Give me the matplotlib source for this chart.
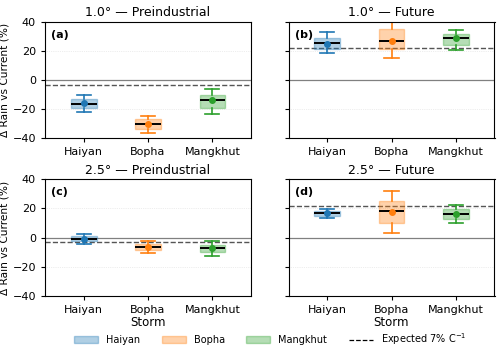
import matplotlib
matplotlib.use('Agg')
import matplotlib.pyplot as plt
from matplotlib.patches import Patch
from matplotlib.lines import Line2D

storms = ['Haiyan', 'Bopha', 'Mangkhut']
colors = ['#1f77b4', '#ff7f0e', '#2ca02c']

titles = ['1.0° — Preindustrial', '1.0° — Future', '2.5° — Preindustrial', '2.5° — Future']
letters = ['(a)', '(b)', '(c)', '(d)']
expected = [-3.4, 21.8, -3.2, 21.8]

# per panel, per storm: whislo, q1, med, q3, whishi, mean
pre_10 = [[-22.3, -19.5, -16.3, -13.0, -10.3, -16.0],
          [-36.5, -33.6, -30.3, -27.0, -24.6, -30.0],
          [-23.2, -19.0, -14.0, -10.0, -6.0, -14.0]]
fut_10 = [[18.6, 21.4, 25.3, 29.2, 32.9, 25.0],
          [15.0, 21.6, 26.7, 35.0, 42.0, 26.8],
          [20.5, 24.1, 28.7, 31.5, 34.7, 28.6]]
pre_25 = [[-4.2, -2.4, -0.8, 0.8, 2.2, -0.9],
          [-10.6, -8.8, -6.5, -4.4, -2.4, -6.4],
          [-12.9, -9.9, -7.4, -4.9, -2.4, -7.3]]
fut_25 = [[13.5, 14.7, 16.8, 18.3, 19.7, 16.7],
          [2.8, 9.9, 18.1, 25.0, 31.8, 17.8],
          [9.9, 12.9, 16.3, 19.5, 22.4, 16.2]]
panels = [pre_10, fut_10, pre_25, fut_25]

fig = plt.figure(figsize=(5, 3.54), dpi=100)
boxes = [[0.09, 0.610, 0.412, 0.328], [0.577, 0.610, 0.412, 0.328],
         [0.09, 0.164, 0.412, 0.330], [0.577, 0.164, 0.412, 0.330]]

for k in range(4):
    ax = fig.add_axes(boxes[k])
    ax.set_axisbelow(True)
    for i, s in enumerate(panels[k]):
        st = dict(whislo=s[0], q1=s[1], med=s[2], q3=s[3], whishi=s[4], mean=s[5])
        c = colors[i]
        ax.bxp([st], positions=[i], widths=0.4, showmeans=True, showfliers=False,
               patch_artist=True,
               boxprops=dict(facecolor=c, alpha=0.35, edgecolor=c, linewidth=1),
               whiskerprops=dict(color=c, linewidth=1.2),
               capprops=dict(color=c, linewidth=1.2),
               capwidths=0.22,
               medianprops=dict(color='black', linewidth=1.4),
               meanprops=dict(marker='o', markerfacecolor=c, markeredgecolor=c, markersize=4))
    ax.axhline(0, color='grey', lw=0.9, zorder=1)
    ax.axhline(expected[k], color='#555555', lw=1.0, ls='--', zorder=1)
    ax.set_ylim(-40, 40)
    ax.set_xlim(-0.6, 2.6)
    ax.set_yticks([-40, -20, 0, 20, 40])
    ax.grid(axis='y', ls=':', lw=0.5, color='#dddddd')
    ax.set_xticks([0, 1, 2])
    ax.set_xticklabels(storms, fontsize=8)
    ax.tick_params(labelsize=8, length=3)
    ax.set_title(titles[k], fontsize=9, pad=4)
    ax.text(0.03, 0.93, letters[k], transform=ax.transAxes, fontsize=8,
            fontweight='bold', va='top', ha='left')
    if k % 2 == 0:
        ax.set_ylabel('Δ Rain vs Current (%)', fontsize=7.6)
        ax.yaxis.set_label_coords(-0.17, 0.5)
    else:
        ax.set_yticklabels([])
    if k >= 2:
        ax.set_xlabel('Storm', fontsize=8.5, labelpad=1)

handles = [Patch(facecolor=c, edgecolor=c, alpha=0.35) for c in colors]
handles.append(Line2D([0], [0], color='black', ls='--', lw=0.9))
labels = storms + ['Expected 7% C$^{-1}$']
fig.legend(handles, labels, loc='lower center', bbox_to_anchor=(0.54, -0.005), ncol=4,
           frameon=False, fontsize=7, handlelength=2.5, columnspacing=2.2)

fig.savefig('out.png', dpi=100)
